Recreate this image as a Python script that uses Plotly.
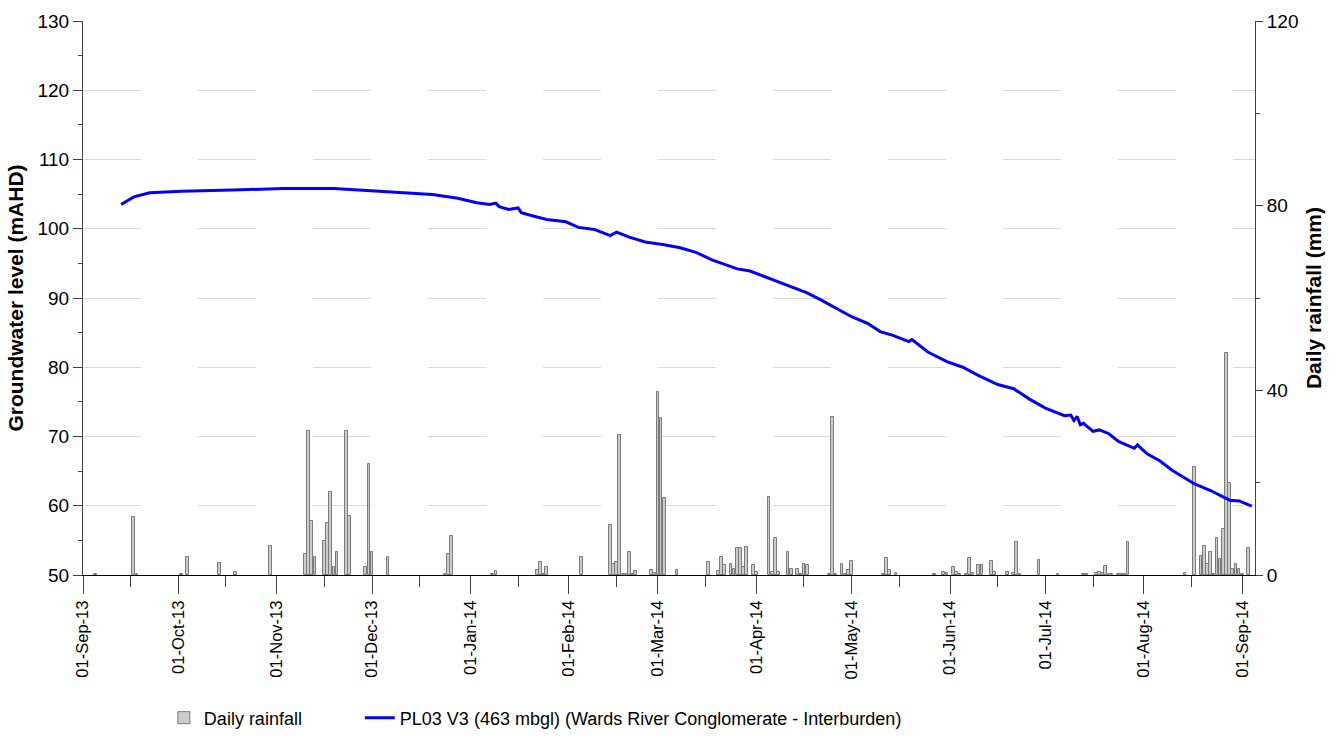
import plotly.graph_objects as go

# ---------------- data ----------------
rain_dates = [
    "2013-09-05", "2013-09-17", "2013-09-18", "2013-10-02", "2013-10-04", "2013-10-14",
    "2013-10-19", "2013-10-30", "2013-11-10", "2013-11-11", "2013-11-12", "2013-11-13",
    "2013-11-16", "2013-11-17", "2013-11-18", "2013-11-19", "2013-11-20", "2013-11-23",
    "2013-11-24", "2013-11-29", "2013-11-30", "2013-12-01", "2013-12-06", "2013-12-24",
    "2013-12-25", "2013-12-26", "2014-01-08", "2014-01-09", "2014-01-22", "2014-01-23",
    "2014-01-24", "2014-01-25", "2014-02-05", "2014-02-14", "2014-02-15", "2014-02-16",
    "2014-02-17", "2014-02-18", "2014-02-19", "2014-02-20", "2014-02-21", "2014-02-22",
    "2014-02-27", "2014-02-28", "2014-03-01", "2014-03-02", "2014-03-03", "2014-03-07",
    "2014-03-17", "2014-03-20", "2014-03-21", "2014-03-22", "2014-03-24", "2014-03-25",
    "2014-03-26", "2014-03-27", "2014-03-28", "2014-03-29", "2014-03-31", "2014-04-01",
    "2014-04-05", "2014-04-06", "2014-04-07", "2014-04-08", "2014-04-11", "2014-04-12",
    "2014-04-14", "2014-04-15", "2014-04-16", "2014-04-17", "2014-04-24", "2014-04-25",
    "2014-04-26", "2014-04-28", "2014-04-29", "2014-04-30", "2014-05-01", "2014-05-11",
    "2014-05-12", "2014-05-13", "2014-05-15", "2014-05-27", "2014-05-30", "2014-05-31",
    "2014-06-02", "2014-06-03", "2014-06-04", "2014-06-06", "2014-06-07", "2014-06-08",
    "2014-06-10", "2014-06-11", "2014-06-14", "2014-06-15", "2014-06-19", "2014-06-21",
    "2014-06-22", "2014-06-23", "2014-06-29", "2014-07-05", "2014-07-13", "2014-07-14",
    "2014-07-17", "2014-07-18", "2014-07-19", "2014-07-20", "2014-07-21", "2014-07-22",
    "2014-07-24", "2014-07-25", "2014-07-26", "2014-07-27", "2014-08-14", "2014-08-17",
    "2014-08-19", "2014-08-20", "2014-08-21", "2014-08-22", "2014-08-23", "2014-08-24",
    "2014-08-25", "2014-08-26", "2014-08-27", "2014-08-28", "2014-08-29", "2014-08-30",
    "2014-08-31", "2014-09-01", "2014-09-03",
]
rain_mm = [
    0.3, 12.6, 0.3, 0.3, 4.0, 2.7,
    0.6, 6.3, 4.5, 31.1, 11.7, 4.0,
    7.3, 11.2, 18.0, 1.8, 4.9, 31.1,
    12.8, 1.8, 24.0, 4.9, 3.9, 0.3,
    4.6, 8.4, 0.3, 0.9, 1.0, 2.8,
    0.3, 1.7, 4.0, 10.8, 2.4, 2.8,
    30.3, 0.3, 0.3, 5.0, 0.3, 0.9,
    1.0, 0.4, 39.7, 34.0, 16.6, 1.0,
    2.8, 0.9, 4.0, 2.1, 2.4, 1.4,
    5.8, 5.8, 1.8, 6.0, 2.2, 0.6,
    16.8, 0.6, 8.1, 0.6, 4.9, 1.2,
    1.4, 0.3, 2.4, 2.2, 0.3, 34.2,
    0.3, 2.4, 0.3, 1.0, 3.1, 0.3,
    3.6, 1.0, 0.4, 0.3, 0.6, 0.4,
    1.7, 0.6, 0.3, 0.3, 3.6, 0.4,
    2.1, 2.1, 3.1, 0.6, 0.6, 0.4,
    7.1, 0.3, 3.2, 0.3, 0.3, 0.3,
    0.4, 0.7, 0.4, 2.0, 0.3, 0.3,
    0.3, 0.3, 0.3, 7.1, 0.4, 23.4,
    4.2, 6.2, 2.4, 5.0, 0.3, 8.0,
    3.5, 9.9, 48.1, 20.0, 1.2, 2.4,
    1.4, 0.3, 5.8,
]

level_dates = [
    "2013-09-13", "2013-09-17", "2013-09-22", "2013-10-02", "2013-10-18", "2013-11-03",
    "2013-11-19", "2013-12-04", "2013-12-20", "2013-12-28", "2014-01-03", "2014-01-07",
    "2014-01-09", "2014-01-10", "2014-01-13", "2014-01-16", "2014-01-17", "2014-01-21",
    "2014-01-25", "2014-01-31", "2014-02-04", "2014-02-09", "2014-02-14", "2014-02-16",
    "2014-02-20", "2014-02-25", "2014-03-03", "2014-03-08", "2014-03-13", "2014-03-18",
    "2014-03-26", "2014-03-30", "2014-04-08", "2014-04-13", "2014-04-17", "2014-04-21",
    "2014-04-25", "2014-05-01", "2014-05-06", "2014-05-10", "2014-05-14", "2014-05-19",
    "2014-05-20", "2014-05-25", "2014-05-31", "2014-06-05", "2014-06-10", "2014-06-16",
    "2014-06-21", "2014-06-26", "2014-07-01", "2014-07-07", "2014-07-09", "2014-07-10",
    "2014-07-11", "2014-07-12", "2014-07-13", "2014-07-16", "2014-07-18", "2014-07-21",
    "2014-07-24", "2014-07-29", "2014-07-30", "2014-08-02", "2014-08-06", "2014-08-10",
    "2014-08-17", "2014-08-22", "2014-08-28", "2014-08-31", "2014-09-04",
]
level_mahd = [
    103.5, 104.6, 105.2, 105.4, 105.6, 105.8,
    105.8, 105.4, 104.95, 104.4, 103.75, 103.5,
    103.7, 103.2, 102.8, 103.0, 102.3, 101.8,
    101.35, 101.0, 100.2, 99.9, 99.0, 99.5,
    98.8, 98.1, 97.7, 97.25, 96.6, 95.5,
    94.2, 93.9, 92.35, 91.4, 90.75, 89.8,
    88.8, 87.3, 86.35, 85.15, 84.6, 83.7,
    84.0, 82.2, 80.8, 80.0, 78.8, 77.5,
    76.9, 75.4, 74.1, 73.0, 73.1, 72.3,
    72.9, 71.7, 71.9, 70.75, 70.95, 70.4,
    69.3, 68.3, 68.8, 67.5, 66.5, 65.1,
    63.15, 62.2, 60.8, 60.7, 59.95,
]

x_range = ["2013-09-01", "2014-09-05"]
level_range = [50, 130]
rain_range = [0, 120]

FONT = "Arial, 'Liberation Sans', sans-serif"
DAY_MS = 86400000

fig = go.Figure()
fig.add_trace(go.Bar(
    x=rain_dates, y=rain_mm, name="Daily rainfall",
    width=DAY_MS * 0.85,
    marker=dict(color="#cccccc", line=dict(color="#7a7a7a", width=1)),
    yaxis="y", legend="legend",
))
fig.add_trace(go.Scatter(
    x=level_dates, y=level_mahd, mode="lines",
    name="PL03 V3 (463 mbgl) (Wards River Conglomerate - Interburden)",
    line=dict(color="#0000ff", width=3),
    yaxis="y2", legend="legend2",
))

legend_common = dict(orientation="h", xanchor="left", y=-0.258, yanchor="middle",
                     font=dict(size=18), bgcolor="rgba(0,0,0,0)")

fig.update_layout(
    width=1338, height=756,
    margin=dict(l=83, r=83, t=21, b=181),
    paper_bgcolor="white", plot_bgcolor="white",
    font=dict(family=FONT, color="black", size=17),
    showlegend=True,
    legend=dict(x=0.069, **legend_common),
    legend2=dict(x=0.2362, **legend_common),
    bargap=0,
    xaxis=dict(
        type="date", range=x_range, tickformat="%d-%b-%y", tickangle=-90,
        dtick="M1", tick0="2013-09-01",
        ticks="outside", ticklen=18, tickcolor="#404040", tickwidth=1,
        minor=dict(dtick="M1", tick0="2013-09-16", ticks="outside", ticklen=11,
                   tickcolor="#404040", showgrid=False),
        showgrid=False, showline=True, linecolor="#000000", linewidth=1,
        tickfont=dict(size=16.5), automargin=False, zeroline=False,
    ),
    yaxis=dict(
        range=rain_range, side="right", dtick=40, tick0=0,
        ticks="outside", ticklen=7, tickcolor="#404040",
        minor=dict(dtick=20, ticks="outside", ticklen=4, tickcolor="#404040", showgrid=False),
        showgrid=False, zeroline=False, showline=True, linecolor="#404040", linewidth=1,
        tickfont=dict(size=19), automargin=False,
        title=dict(text="<b>Daily rainfall (mm)</b>", font=dict(size=21), standoff=8),
    ),
    yaxis2=dict(
        range=level_range, side="left", overlaying="y", dtick=10, tick0=50,
        ticks="outside", ticklen=9, tickcolor="#404040",
        minor=dict(dtick=5, ticks="outside", ticklen=4, tickcolor="#404040", showgrid=False),
        showgrid=True, gridcolor="#d9d9d9", gridwidth=1, griddash="58px,57px",
        zeroline=False, showline=True, linecolor="#404040", linewidth=1,
        tickfont=dict(size=19), automargin=False,
        title=dict(text="<b>Groundwater level (mAHD)</b>", font=dict(size=21), standoff=8),
    ),
)

fig.write_html("out.html", config={"displayModeBar": False},
               post_script="document.body.style.margin='0';")
